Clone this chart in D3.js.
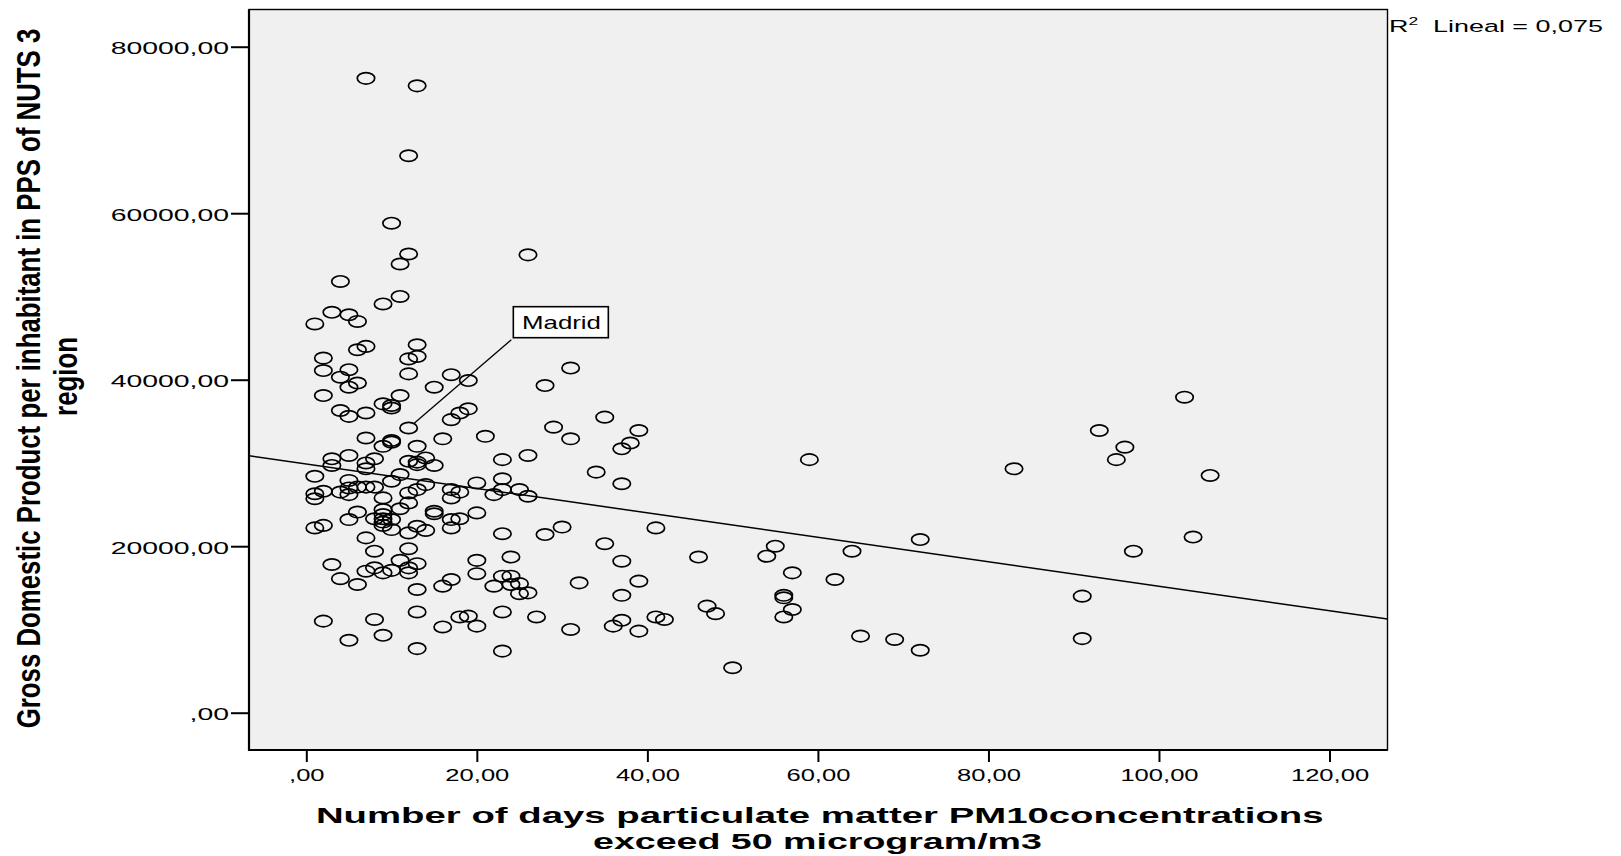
<!DOCTYPE html>
<html>
<head>
<meta charset="utf-8">
<script src="https://cdn.jsdelivr.net/npm/d3@7"></script>
<style>
  html, body { margin: 0; padding: 0; background: #ffffff; }
  svg { display: block; }
  text { font-family: "Liberation Sans", Arial, sans-serif; fill: #000; }
</style>
</head>
<body>
<svg id="chart" width="1621" height="856"></svg>
<script>
// ---------------- DATA ----------------
// Number of days PM10 > 50 µg/m3 (x) and GDP per inhabitant in PPS (y)
const dayGroups = [1,2,3,4,5,6,7,8,9,10,11,12,13,14,15,16,17,18,19,20,21,22,23,24,25,26,27,28,29,30,31,32,34,35,36,37,38,39,41,42,46,47,48,50,54,55,56,57,59,62,64,65,69,72,83,91,93,95,96,97,103,104,106];
const gdpGroups = [
  [46700, 28400, 26300, 25700, 22200],
  [42600, 41100, 38100, 26600, 22500, 11000],
  [48100, 30500, 29700, 17800],
  [51800, 40300, 36300, 26500, 16100],
  [47800, 41200, 39100, 35600, 30900, 27900, 27000, 26200, 23200, 8700],
  [47000, 43600, 39600, 27100, 24100, 15400],
  [76200, 44000, 36000, 33000, 30000, 29300, 27100, 21000, 17000],
  [30500, 27100, 23300, 19400, 17400, 11200],
  [49100, 37100, 32000, 25800, 24400, 23800, 23300, 22900, 22500, 16800, 9300],
  [58800, 36900, 36600, 32700, 32500, 27800, 23200, 22000, 17100],
  [53900, 50000, 38100, 28600, 24500, 18300],
  [66900, 55100, 42500, 40700, 34200, 30200, 26400, 25200, 21600, 19700, 17400, 16800],
  [75300, 44200, 42800, 32000, 30100, 29800, 26800, 22400, 17900, 14800, 12100, 7700],
  [30600, 27400, 21900],
  [39100, 29700, 24200, 23900],
  [32900, 15200, 10300],
  [40600, 35200, 26800, 25800, 23200, 22200, 16000],
  [36000, 26500, 23300, 11500],
  [39900, 36500, 11600],
  [27600, 24000, 18300, 16700, 10400],
  [33200],
  [26200, 15200],
  [30400, 28100, 26800, 21500, 16400, 12100, 7400],
  [18700, 16400, 15400],
  [26800, 15500, 14300],
  [55000, 30900, 26000, 14400],
  [11500],
  [39300, 21400],
  [34300],
  [22300],
  [41400, 32900, 10000],
  [15600],
  [28900],
  [35500, 20300],
  [10400],
  [31700, 27500, 18200, 14100, 11100],
  [32400],
  [33900, 15800, 9800],
  [22200, 11500],
  [11200],
  [18700],
  [12800],
  [11900],
  [5400],
  [18800],
  [20000],
  [14100, 13800, 11500],
  [16800, 12400],
  [30400],
  [16000],
  [19400],
  [9200],
  [8800],
  [20800, 7500],
  [29300],
  [14000, 8900],
  [33900],
  [30400],
  [31900],
  [19400],
  [37900],
  [21100],
  [28500]
];
// Labelled case
const labelName = "Madrid";
const labelDays = 12;
const labelGdp = 34200;
// Linear fit shown in the chart
const fitIntercept = 29884;
const fitSlope = -146.9;
const fitLabel = "0,075";
// Axis ticks
const xTickValues = [0, 20, 40, 60, 80, 100, 120];
const xTickLabels = [",00", "20,00", "40,00", "60,00", "80,00", "100,00", "120,00"];
const yTickValues = [0, 20000, 40000, 60000, 80000];
const yTickLabels = [",00", "20000,00", "40000,00", "60000,00", "80000,00"];
const xDomain = [-6.72, 126.8];
const yDomain = [-4480, 84470];
const xTitle = ["Number of days particulate matter PM10concentrations", "exceed 50 microgram/m3"];
const yTitle = ["Gross Domestic Product per inhabitant in PPS of NUTS 3", "region"];

// ---------------- LAYOUT ----------------
const plot = { left: 249, right: 1387.5, top: 9.5, bottom: 750 };
const svg = d3.select("#chart");

const x = d3.scaleLinear().domain(xDomain).range([plot.left, plot.right]);
const y = d3.scaleLinear().domain(yDomain).range([plot.bottom, plot.top]);

const points = [];
dayGroups.forEach((d, i) => gdpGroups[i].forEach(v => points.push({ days: d, gdp: v })));

// text helper: horizontally stretched text
function sText(parent, str, px, py, o) {
  const t = parent.append("text").text(str)
    .attr("font-size", o.size)
    .attr("font-weight", o.weight || "normal")
    .attr("text-anchor", o.anchor || "start");
  let sx = o.sx || 1;
  if (o.width) sx = o.width / t.node().getComputedTextLength();
  t.attr("transform", `translate(${px},${py}) scale(${sx},1)`);
  return t;
}

// plot background
svg.append("rect")
  .attr("x", plot.left).attr("y", plot.top)
  .attr("width", plot.right - plot.left).attr("height", plot.bottom - plot.top)
  .attr("fill", "#f0f0f0");

// clip
svg.append("clipPath").attr("id", "clip").append("rect")
  .attr("x", plot.left).attr("y", plot.top)
  .attr("width", plot.right - plot.left).attr("height", plot.bottom - plot.top);

// regression line
const fitG = svg.append("g").attr("clip-path", "url(#clip)");
fitG.append("line")
  .attr("x1", x(xDomain[0])).attr("y1", y(fitIntercept + fitSlope * xDomain[0]))
  .attr("x2", x(xDomain[1])).attr("y2", y(fitIntercept + fitSlope * xDomain[1]))
  .attr("stroke", "#000").attr("stroke-width", 1.5);

// markers
const rx = 8.7, ry = 5.7;
svg.append("g").attr("clip-path", "url(#clip)")
  .selectAll("ellipse").data(points).join("ellipse")
  .attr("cx", d => x(d.days)).attr("cy", d => y(d.gdp))
  .attr("rx", rx).attr("ry", ry)
  .attr("fill", "none").attr("stroke", "#000").attr("stroke-width", 1.7);

// Madrid annotation
const mx = x(labelDays), my = y(labelGdp);
const boxX = mx + 104.7, boxBottom = my - 90.3;
const boxW = 95, boxH = 31;
const cornerX = boxX - 2, cornerY = boxBottom + 2;
const ddx = cornerX - mx, ddy = cornerY - my;
const tt = 1 / Math.sqrt((ddx / rx) ** 2 + (ddy / ry) ** 2);
svg.append("line")
  .attr("x1", mx + ddx * tt).attr("y1", my + ddy * tt)
  .attr("x2", cornerX).attr("y2", cornerY)
  .attr("stroke", "#000").attr("stroke-width", 1.3);
svg.append("rect")
  .attr("x", boxX).attr("y", boxBottom - boxH)
  .attr("width", boxW).attr("height", boxH)
  .attr("fill", "#fff").attr("stroke", "#000").attr("stroke-width", 1.6);
sText(svg, labelName, boxX + 8.7, boxBottom - 8.7, { size: 17.5, width: 79 });

// frame
svg.append("rect")
  .attr("x", plot.left).attr("y", plot.top)
  .attr("width", plot.right - plot.left).attr("height", plot.bottom - plot.top)
  .attr("fill", "none").attr("stroke", "#000").attr("stroke-width", 1.4);
svg.append("path")
  .attr("d", `M${plot.left},${plot.top}V${plot.bottom}H${plot.right}`)
  .attr("fill", "none").attr("stroke", "#000").attr("stroke-width", 2.2);

// y axis (ticks via d3 axis)
const yAxis = svg.append("g").attr("transform", `translate(${plot.left},0)`)
  .call(d3.axisLeft(y).tickValues(yTickValues).tickSize(18).tickSizeOuter(0)
    .tickFormat((d, i) => yTickLabels[i]));
yAxis.select(".domain").remove();
yAxis.selectAll(".tick line").attr("stroke", "#000").attr("stroke-width", 2);
yAxis.selectAll(".tick text").each(function () {
  const t = d3.select(this);
  t.attr("x", null).attr("dy", null).attr("y", null)
    .attr("font-size", 16.5).attr("font-family", null)
    .attr("text-anchor", "end")
    .attr("transform", `translate(-20,7) scale(1.72,1)`);
});

// x axis
const xAxis = svg.append("g").attr("transform", `translate(0,${plot.bottom})`)
  .call(d3.axisBottom(x).tickValues(xTickValues).tickSize(12).tickSizeOuter(0)
    .tickFormat((d, i) => xTickLabels[i]));
xAxis.select(".domain").remove();
xAxis.selectAll(".tick line").attr("stroke", "#000").attr("stroke-width", 2);
xAxis.selectAll(".tick text").each(function () {
  const t = d3.select(this);
  t.attr("x", null).attr("dy", null).attr("y", null)
    .attr("font-size", 16.5).attr("font-family", null)
    .attr("text-anchor", "middle")
    .attr("transform", `translate(0,31) scale(1.55,1)`);
});
svg.selectAll(".tick text").style("fill", "#000");

// x title
const xmid = (plot.left + plot.right) / 2;
sText(svg, xTitle[0], xmid + 1.5, 822.5, { size: 21.5, weight: "bold", anchor: "middle", width: 1008 });
sText(svg, xTitle[1], xmid - 0.8, 848.5, { size: 21.5, weight: "bold", anchor: "middle", width: 449 });

// y title (rotated, stretched on screen x)
function yText(str, bx, cy, size, sxScreen, targetLen) {
  const t = svg.append("text").text(str)
    .attr("font-size", size).attr("font-weight", "bold")
    .attr("text-anchor", "middle");
  const w = t.node().getComputedTextLength();
  const k = targetLen ? targetLen / w : 1;
  t.attr("transform", `translate(${bx},${cy}) scale(${sxScreen},1) rotate(-90) scale(${k},1)`);
  return k;
}
const kY = yText(yTitle[0], 39.5, 378.5, 25, 1.35, 700);
(function () {
  const t = svg.append("text").text(yTitle[1])
    .attr("font-size", 25).attr("font-weight", "bold").attr("text-anchor", "middle");
  t.attr("transform", `translate(77,376.5) scale(1.35,1) rotate(-90) scale(${kY},1)`);
})();

// R² annotation
(function () {
  const t = svg.append("text").attr("font-size", 17).style("white-space", "pre");
  t.append("tspan").text("R");
  t.append("tspan").text("2").attr("font-size", 11).attr("dy", -7);
  t.append("tspan").text("  Lineal = " + fitLabel).attr("dy", 7);
  const w = t.node().getComputedTextLength();
  t.attr("transform", `translate(1389,32) scale(${214 / w},1)`);
})();
</script>
</body>
</html>
